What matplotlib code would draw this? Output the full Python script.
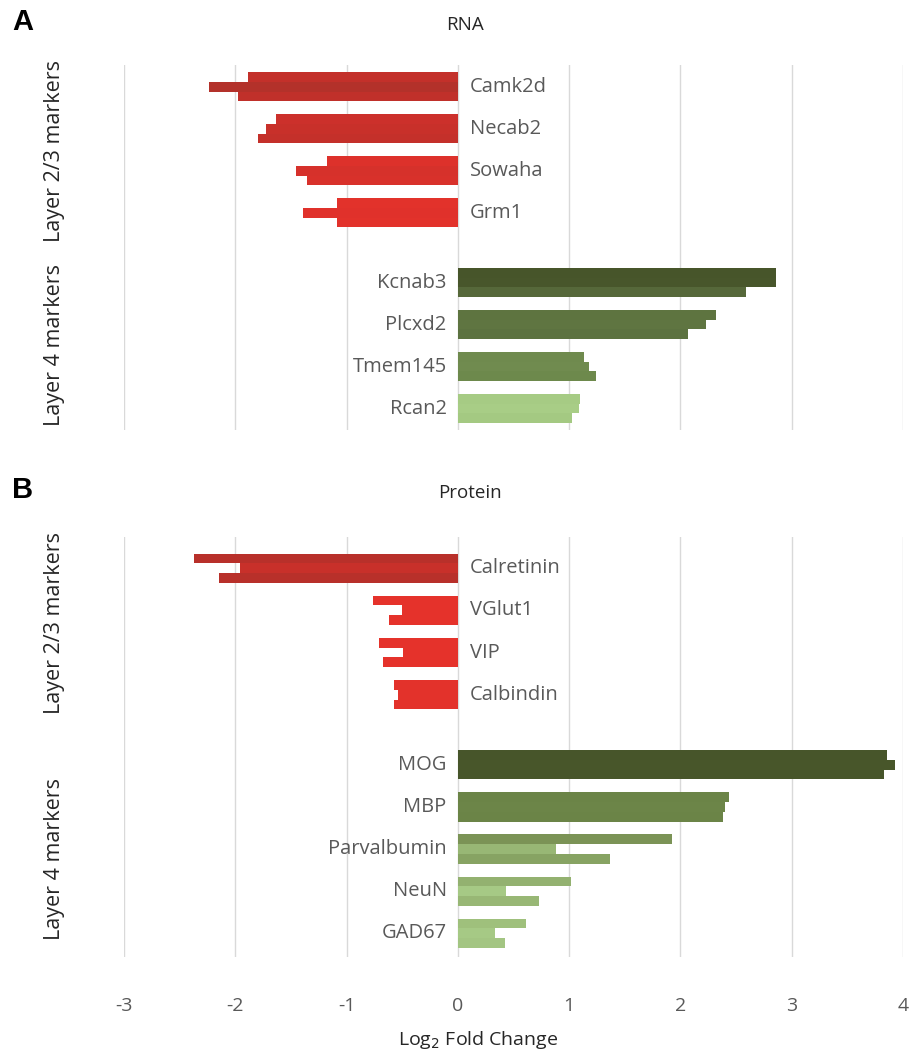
import matplotlib
matplotlib.use("Agg")
import matplotlib.pyplot as plt
import numpy as np

plt.rcParams['font.family'] = ['Open Sans', 'DejaVu Sans']

# ---- RNA (panel A) ----
rna_genes = ["Camk2d", "Necab2", "Sowaha", "Grm1", "Kcnab3", "Plcxd2", "Tmem145", "Rcan2"]
rna_group = [0, 0, 0, 0, 1, 1, 1, 1]          # 0 = Layer 2/3 markers, 1 = Layer 4 markers
rna_rep1 = [-1.89, -1.63, -1.18, -1.09, 2.86, 2.32, 1.13, 1.10]
rna_rep2 = [-2.24, -1.72, -1.45, -1.39, 2.86, 2.23, 1.18, 1.09]
rna_rep3 = [-1.98, -1.80, -1.36, -1.09, 2.59, 2.07, 1.24, 1.03]

# ---- Protein (panel B) ----
prot_genes = ["Calretinin", "VGlut1", "VIP", "Calbindin", "MOG", "MBP", "Parvalbumin", "NeuN", "GAD67"]
prot_group = [0, 0, 0, 0, 1, 1, 1, 1, 1]
prot_rep1 = [-2.37, -0.76, -0.71, -0.57, 3.86, 2.44, 1.92, 1.02, 0.61]
prot_rep2 = [-1.96, -0.50, -0.49, -0.54, 3.93, 2.40, 0.88, 0.43, 0.33]
prot_rep3 = [-2.15, -0.62, -0.67, -0.57, 3.83, 2.38, 1.37, 0.73, 0.42]

# bar fill colours, one triple (rep1, rep2, rep3) per gene
rna_colors = [
    ("#c3302a", "#b3312a", "#c0302a"),
    ("#cc302b", "#c8302a", "#c4302a"),
    ("#dd312b", "#d6312b", "#d8312b"),
    ("#e2322b", "#e0312b", "#e2322b"),
    ("#47552a", "#48562b", "#56683a"),
    ("#5e7440", "#5f7541", "#5c7240"),
    ("#6f8a4e", "#708b4f", "#6d894c"),
    ("#a6cb84", "#a8cd86", "#a4c982"),
]
prot_colors = [
    ("#b8302a", "#c8302a", "#b8302a"),
    ("#e5322b", "#e5322b", "#e5322b"),
    ("#e5322b", "#e5322b", "#e5322b"),
    ("#e3322b", "#e3322b", "#e3322b"),
    ("#47552a", "#48562a", "#47552a"),
    ("#6b8447", "#6c8548", "#6b8447"),
    ("#7b9356", "#98b775", "#87a363"),
    ("#93b170", "#a6c985", "#98b775"),
    ("#9fc07c", "#a6c985", "#a3c582"),
]

GROUP_GAP = 0.66
BAR_H = 0.232
TEXT_GRAY = "#595959"
GRID_GRAY = "#d9d9d9"
LABEL_SIZE = 14.5


def draw_panel(ax, genes, groups, reps, colors, ylim):
    pos = np.arange(len(genes)) + np.array(groups) * GROUP_GAP
    offsets = [-BAR_H, 0.0, BAR_H]
    for r, (vals, off) in enumerate(zip(reps, offsets)):
        ax.barh(pos + off, vals, height=BAR_H,
                color=[c[r] for c in colors], edgecolor="none", zorder=2)
    # gene names next to the zero line, on the side away from the bars
    for p, g, v in zip(pos, genes, reps[0]):
        if v < 0:
            ax.text(0.11, p, g, ha="left", va="center", fontsize=LABEL_SIZE, color=TEXT_GRAY)
        else:
            ax.text(-0.10, p, g, ha="right", va="center", fontsize=LABEL_SIZE, color=TEXT_GRAY)
    ax.set_xlim(-3, 4)
    ax.set_ylim(*ylim)
    ax.set_xticks(range(-3, 5))
    ax.set_yticks([])
    ax.grid(axis="x", color=GRID_GRAY, linewidth=1.0, zorder=0)
    ax.set_axisbelow(True)
    for s in ax.spines.values():
        s.set_visible(False)
    ax.tick_params(axis="x", length=0)


fig = plt.figure(figsize=(9.12, 10.54), dpi=100)
W, H = 912, 1054

axA = fig.add_axes([124 / W, 1 - 430 / H, 779 / W, 365 / H])
draw_panel(axA, rna_genes, rna_group, [rna_rep1, rna_rep2, rna_rep3], rna_colors,
           (8.17, -0.52))
axA.set_xticklabels([])

axB = fig.add_axes([124 / W, 1 - 957 / H, 779 / W, 420 / H])
draw_panel(axB, prot_genes, prot_group, [prot_rep1, prot_rep2, prot_rep3], prot_colors,
           (9.22, -0.74))
axB.set_xticklabels([str(t) for t in range(-3, 5)], fontsize=14, color=TEXT_GRAY)
axB.tick_params(axis="x", pad=29)

# panel titles and letters
fig.text(465 / W, 1 - 25 / H, "RNA", ha="center", va="center", fontsize=13.5, color="#262626")
fig.text(470 / W, 1 - 493 / H, "Protein", ha="center", va="center", fontsize=13.5, color="#262626")
fig.text(12 / W, 1 - 22 / H, "A", ha="left", va="center", fontsize=21, fontweight="bold",
         family=["Liberation Sans", "DejaVu Sans"])
fig.text(12 / W, 1 - 490 / H, "B", ha="left", va="center", fontsize=21, fontweight="bold",
         family=["Liberation Sans", "DejaVu Sans"])

# group labels
for ytxt, label in [(151, "Layer 2/3 markers"), (345, "Layer 4 markers"),
                    (623, "Layer 2/3 markers"), (859, "Layer 4 markers")]:
    fig.text(55 / W, 1 - ytxt / H, label, rotation=90, ha="center", va="center",
             fontsize=15.5, color="#262626")

fig.text(478 / W, 1 - 1040 / H, r"Log$_2$ Fold Change", ha="center", va="center",
         fontsize=14, color="#262626")

fig.savefig("out.png", dpi=100)
